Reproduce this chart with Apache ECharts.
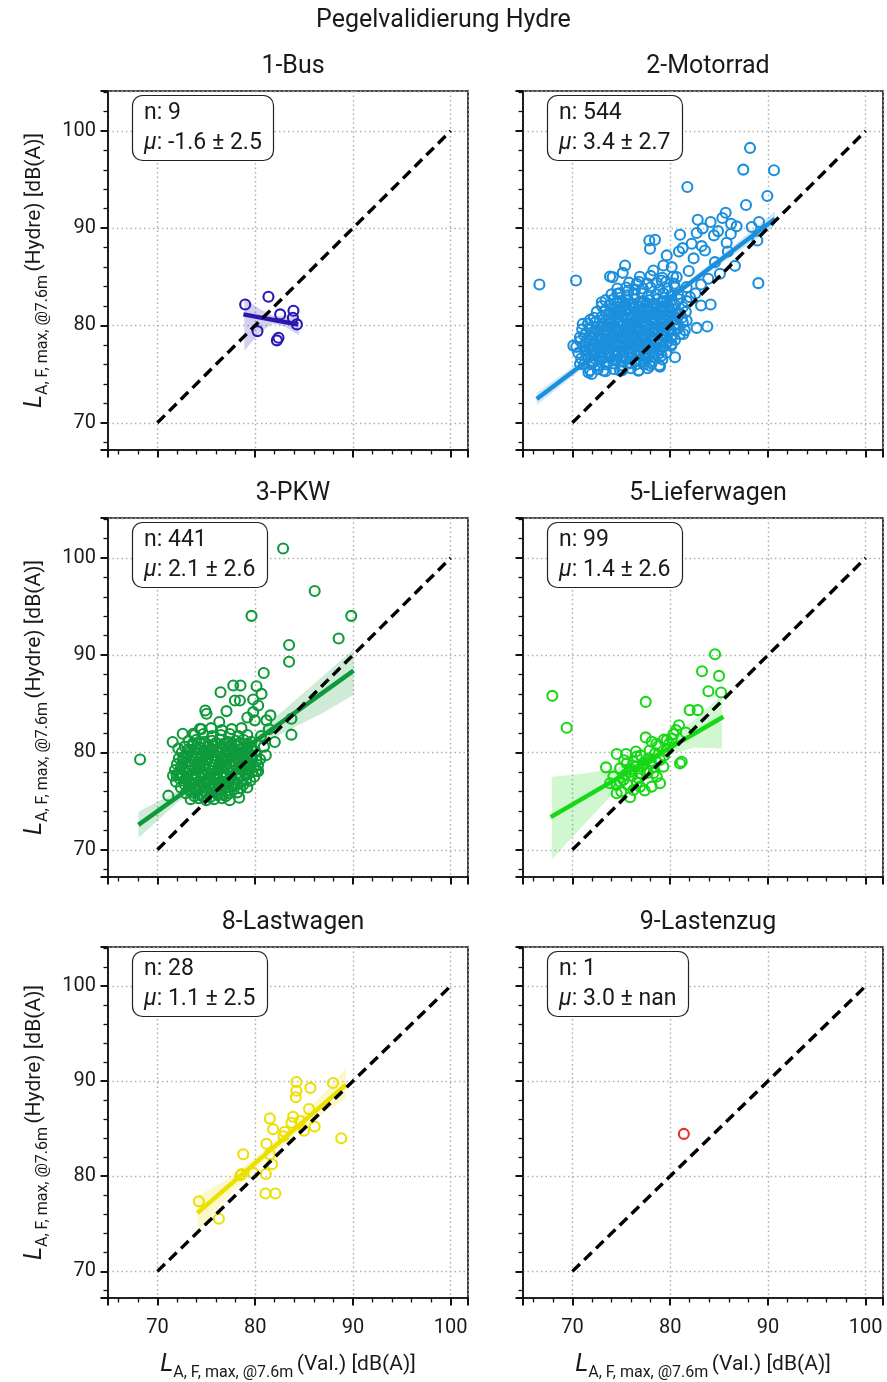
<!DOCTYPE html>
<html>
<head>
<meta charset="utf-8">
<script src="https://cdn.jsdelivr.net/npm/echarts@6/dist/echarts.min.js"></script>
<style>
html,body{margin:0;padding:0;background:#fff;}
#chart{width:887px;height:1382px;}
</style>
</head>
<body>
<div id="chart"></div>
<script>
// ---------------- DATA ----------------
const panelTitles = ['1-Bus', '2-Motorrad', '3-PKW', '5-Lieferwagen', '8-Lastwagen', '9-Lastenzug'];
const panelN = ['9', '544', '441', '99', '28', '1'];
const panelMu = ['-1.6 ± 2.5', '3.4 ± 2.7', '2.1 ± 2.6', '1.4 ± 2.6', '1.1 ± 2.5', '3.0 ± nan'];
const panelColors = ['#2a17b2', '#1b8fdc', '#0e9a3b', '#17d817', '#ebe000', '#e8302a'];
const xTicks = [70, 80, 90, 100];
const yTicks = [70, 80, 90, 100];

const busPts = [[78.98,82.16],[81.36,82.95],[82.56,81.14],[83.92,81.51],[83.86,80.79],[84.27,80.11],[80.24,79.42],[82.39,78.73],[82.22,78.47]];

const motoOutliers = [[66.63,84.21],[70.37,84.62],[81.76,94.24],[88.17,98.25],[87.48,96.02],[90.62,95.95],[89.94,93.31],[87.76,92.38],[89.02,84.35],[85.68,91.59],[85.34,91.04],[86.23,90.46],[86.80,90.19],[88.34,90.12],[89.09,90.63],[88.92,88.74],[82.82,90.87],[84.14,90.63],[83.32,89.98],[82.71,89.50],[84.48,89.26],[81.01,89.33],[78.45,88.81],[77.94,87.89],[85.78,88.50],[81.28,87.95],[83.22,88.16],[83.56,87.71],[84.58,86.51],[85.09,85.31],[86.63,86.13],[83.16,84.21],[83.16,82.05],[84.14,82.15],[82.71,79.75],[83.80,79.89],[80.50,76.73],[75.39,86.17],[75.15,85.41],[73.85,85.04],[74.12,84.97],[77.87,88.74],[79.65,87.20],[80.16,86.00],[70.10,77.93],[71.06,80.16],[70.78,78.79],[71.80,80.57],[71.64,75.18],[70.78,76.04],[73.00,82.39],[73.34,81.53],[74.60,83.25],[75.73,83.59],[76.58,84.28],[78.28,85.65],[79.31,86.17],[79.13,84.62],[80.67,84.97],[81.69,83.94],[82.03,82.91],[81.01,81.19],[81.69,80.50],[81.35,79.13],[80.16,78.10],[79.13,76.90],[77.94,75.87],[78.96,75.77],[76.75,75.36],[74.87,75.36],[73.17,75.36],[71.97,75.01],[82.4,86.9],[81.9,85.6],[82.6,83.3],[83.9,84.8],[85.9,87.6],[82.2,88.4],[80.9,87.6],[84.9,89.7],[86.2,89.4]];

const motoCore = [
[71.8,75.4],[72.6,75.5],[73.4,75.3],[74.3,75.5],[75.1,75.4],[76.0,75.6],[76.8,75.4],[77.7,75.6],
[71.2,76.0],[72.0,76.1],[72.7,75.9],[73.5,76.0],[74.2,76.1],[75.0,75.9],[75.8,76.1],[76.5,76.0],[77.3,76.0],[78.1,76.1],[78.9,75.9],
[70.9,76.6],[71.6,76.7],[72.4,76.5],[73.1,76.6],[73.9,76.7],[74.6,76.5],[75.4,76.6],[76.1,76.7],[76.9,76.5],[77.6,76.6],[78.4,76.7],[79.2,76.5],
[70.6,77.2],[71.3,77.3],[72.1,77.1],[72.8,77.2],[73.6,77.3],[74.3,77.1],[75.1,77.2],[75.8,77.3],[76.6,77.1],[77.3,77.2],[78.1,77.3],[78.8,77.1],[79.6,77.2],
[70.4,77.8],[71.1,77.9],[71.8,77.7],[72.6,77.8],[73.3,77.9],[74.0,77.7],[74.8,77.8],[75.5,77.9],[76.3,77.7],[77.0,77.8],[77.8,77.9],[78.5,77.7],[79.3,77.8],[80.1,77.9],
[70.8,78.4],[71.5,78.5],[72.3,78.3],[73.0,78.4],[73.8,78.5],[74.5,78.3],[75.3,78.4],[76.0,78.5],[76.8,78.3],[77.5,78.4],[78.3,78.5],[79.0,78.3],[79.8,78.4],[80.5,78.5],
[71.2,79.0],[72.0,79.1],[72.7,78.9],[73.5,79.0],[74.2,79.1],[75.0,78.9],[75.7,79.0],[76.5,79.1],[77.2,78.9],[78.0,79.0],[78.7,79.1],[79.5,78.9],[80.2,79.0],[81.0,79.1],
[71.0,79.6],[71.8,79.7],[72.5,79.5],[73.3,79.6],[74.0,79.7],[74.8,79.5],[75.5,79.6],[76.3,79.7],[77.0,79.5],[77.8,79.6],[78.5,79.7],[79.3,79.5],[80.0,79.6],[80.8,79.7],[81.5,79.5],
[71.6,80.2],[72.3,80.3],[73.1,80.1],[73.8,80.2],[74.6,80.3],[75.3,80.1],[76.1,80.2],[76.8,80.3],[77.6,80.1],[78.3,80.2],[79.1,80.3],[79.8,80.1],[80.6,80.2],[81.3,80.3],
[72.2,80.8],[73.0,80.9],[73.7,80.7],[74.5,80.8],[75.2,80.9],[76.0,80.7],[76.7,80.8],[77.5,80.9],[78.2,80.7],[79.0,80.8],[79.7,80.9],[80.5,80.7],[81.2,80.8],
[72.5,81.4],[73.3,81.5],[74.0,81.3],[74.8,81.4],[75.5,81.5],[76.3,81.3],[77.0,81.4],[77.8,81.5],[78.5,81.3],[79.3,81.4],[80.0,81.5],[80.8,81.3],[81.6,81.4],
[73.0,82.0],[73.8,82.1],[74.5,81.9],[75.3,82.0],[76.0,82.1],[76.8,81.9],[77.5,82.0],[78.3,82.1],[79.0,81.9],[79.8,82.0],[80.5,82.1],[81.3,81.9],
[73.4,82.6],[74.2,82.7],[74.9,82.5],[75.7,82.6],[76.4,82.7],[77.2,82.5],[77.9,82.6],[78.7,82.7],[79.4,82.5],[80.2,82.6],[80.9,82.7],[81.7,82.5],
[74.0,83.2],[74.8,83.3],[75.6,83.1],[76.3,83.2],[77.1,83.3],[77.8,83.1],[78.6,83.2],[79.3,83.3],[80.1,83.1],[80.8,83.2],
[74.6,83.8],[75.5,83.9],[76.4,83.7],[77.2,83.8],[78.0,83.9],[78.9,83.7],[79.7,83.8],[80.5,83.9],
[75.8,84.4],[76.8,84.5],[77.7,84.3],[78.6,84.4],[79.6,84.5],[80.4,84.3],
[76.9,85.0],[78.0,85.1],[79.2,84.9],[80.3,85.0]
];

const motoCoreInner = [
[72.0,76.3],[72.8,76.3],[73.5,76.2],[74.3,76.4],[75.0,76.3],[75.8,76.2],[76.5,76.4],[77.3,76.3],[78.0,76.3],
[71.5,76.9],[72.3,76.9],[73.0,76.8],[73.8,77.0],[74.5,76.9],[75.3,76.8],[76.0,77.0],[76.8,76.9],[77.5,76.9],[78.3,76.8],
[71.4,77.5],[72.2,77.5],[73.0,77.4],[73.7,77.6],[74.5,77.5],[75.2,77.4],[76.0,77.6],[76.7,77.5],[77.5,77.5],[78.2,77.4],[79.0,77.6],
[71.4,78.1],[72.1,78.1],[72.9,78.0],[73.6,78.2],[74.4,78.1],[75.1,78.0],[75.9,78.2],[76.6,78.1],[77.4,78.1],[78.1,78.0],[78.9,78.2],[79.6,78.1],
[71.9,78.7],[72.6,78.7],[73.4,78.6],[74.1,78.8],[74.9,78.7],[75.6,78.6],[76.4,78.8],[77.1,78.7],[77.9,78.7],[78.6,78.6],[79.4,78.8],[80.1,78.7],
[72.3,79.3],[73.1,79.3],[73.8,79.2],[74.6,79.4],[75.3,79.3],[76.1,79.2],[76.8,79.4],[77.6,79.3],[78.3,79.3],[79.1,79.2],[79.8,79.4],
[72.9,79.9],[73.6,79.9],[74.4,79.8],[75.1,80.0],[75.9,79.9],[76.6,79.8],[77.4,80.0],[78.1,79.9],[78.9,79.9],[79.6,79.8],[80.4,80.0],
[73.4,80.5],[74.1,80.5],[74.9,80.4],[75.6,80.6],[76.4,80.5],[77.1,80.4],[77.9,80.6],[78.6,80.5],[79.4,80.5],[80.1,80.4],
[73.7,81.1],[74.4,81.1],[75.2,81.0],[75.9,81.2],[76.7,81.1],[77.4,81.0],[78.2,81.2],[78.9,81.1],[79.7,81.1],[80.4,81.0],
[74.2,81.7],[74.9,81.7],[75.7,81.6],[76.4,81.8],[77.2,81.7],[77.9,81.6],[78.7,81.8],[79.4,81.7],[80.2,81.7],
[74.6,82.3],[75.4,82.3],[76.1,82.2],[76.9,82.4],[77.6,82.3],[78.4,82.2],[79.1,82.4]
];

const pkwOutliers = [[68.23,79.27],[82.86,100.96],[86.09,96.59],[79.63,94.04],[89.83,94.04],[88.54,91.72],[83.47,91.04],[83.47,89.33],[80.88,88.17],[76.46,86.19],[77.76,86.88],[78.50,86.88],[80.14,86.81],[80.65,86.02],[77.93,85.34],[78.44,85.34],[77.07,84.25],[74.90,84.32],[75.03,83.98],[79.80,85.44],[80.31,84.83],[79.80,84.15],[79.97,83.30],[81.56,83.81],[81.16,83.30],[83.71,83.47],[83.71,81.83],[82.01,81.08],[81.09,79.72],[80.31,78.08],[78.37,75.35],[71.12,75.56],[71.56,81.08],[72.59,81.93],[72.14,80.40],[73.67,81.93],[74.35,82.44],[76.33,83.13],[71.97,77.67],[72.65,79.38],[80.9,80.6],[81.4,82.4],[80.6,81.7],[79.2,83.6]];

const pkwCore = [
[73.4,75.2],[74.2,75.3],[75.0,75.1],[75.8,75.2],[76.6,75.3],[77.4,75.1],
[72.9,75.8],[73.6,75.9],[74.4,75.7],[75.1,75.8],[75.9,75.9],[76.6,75.7],[77.4,75.8],[78.2,75.9],
[72.4,76.4],[73.2,76.5],[73.9,76.3],[74.7,76.4],[75.4,76.5],[76.2,76.3],[76.9,76.4],[77.7,76.5],[78.5,76.3],[79.2,76.4],
[71.9,77.0],[72.7,77.1],[73.4,76.9],[74.2,77.0],[74.9,77.1],[75.7,76.9],[76.4,77.0],[77.2,77.1],[77.9,76.9],[78.7,77.0],[79.5,77.1],
[71.6,77.6],[72.4,77.7],[73.1,77.5],[73.9,77.6],[74.6,77.7],[75.4,77.5],[76.1,77.6],[76.9,77.7],[77.6,77.5],[78.4,77.6],[79.1,77.7],[79.9,77.5],
[71.8,78.2],[72.6,78.3],[73.3,78.1],[74.1,78.2],[74.8,78.3],[75.6,78.1],[76.3,78.2],[77.1,78.3],[77.8,78.1],[78.6,78.2],[79.3,78.3],[80.1,78.1],
[72.0,78.8],[72.8,78.9],[73.5,78.7],[74.3,78.8],[75.0,78.9],[75.8,78.7],[76.5,78.8],[77.3,78.9],[78.0,78.7],[78.8,78.8],[79.5,78.9],[80.3,78.7],
[72.2,79.4],[73.0,79.5],[73.7,79.3],[74.5,79.4],[75.2,79.5],[76.0,79.3],[76.7,79.4],[77.5,79.5],[78.2,79.3],[79.0,79.4],[79.7,79.5],[80.5,79.3],
[72.5,80.0],[73.3,80.1],[74.0,79.9],[74.8,80.0],[75.5,80.1],[76.3,79.9],[77.0,80.0],[77.8,80.1],[78.5,79.9],[79.3,80.0],[80.0,80.1],
[72.8,80.6],[73.6,80.7],[74.3,80.5],[75.1,80.6],[75.8,80.7],[76.6,80.5],[77.3,80.6],[78.1,80.7],[78.8,80.5],[79.6,80.6],
[73.2,81.2],[74.0,81.3],[74.8,81.1],[75.6,81.2],[76.4,81.3],[77.2,81.1],[78.0,81.2],[78.8,81.3],[79.6,81.1],
[73.8,81.8],[74.7,81.9],[75.6,81.7],[76.5,81.8],[77.4,81.9],[78.3,81.7],[79.2,81.8],
[74.5,82.4],[75.5,82.5],[76.6,82.3],[77.6,82.4],[78.6,82.5]
];

const pkwCoreInner = [
[73.8,75.5],[74.6,75.5],[75.4,75.4],[76.2,75.6],[77.0,75.5],
[73.3,76.1],[74.0,76.1],[74.8,76.0],[75.5,76.2],[76.3,76.1],[77.0,76.0],[77.8,76.2],
[72.8,76.7],[73.5,76.7],[74.3,76.6],[75.0,76.8],[75.8,76.7],[76.5,76.6],[77.3,76.8],[78.1,76.7],[78.8,76.7],
[72.3,77.3],[73.0,77.3],[73.8,77.2],[74.5,77.4],[75.3,77.3],[76.0,77.2],[76.8,77.4],[77.5,77.3],[78.3,77.3],[79.1,77.2],
[72.2,77.9],[73.0,77.9],[73.7,77.8],[74.5,78.0],[75.2,77.9],[76.0,77.8],[76.7,78.0],[77.5,77.9],[78.2,77.9],[79.0,77.8],[79.7,78.0],
[72.4,78.5],[73.2,78.5],[73.9,78.4],[74.7,78.6],[75.4,78.5],[76.2,78.4],[76.9,78.6],[77.7,78.5],[78.4,78.5],[79.2,78.4],[79.9,78.6],
[72.6,79.1],[73.4,79.1],[74.1,79.0],[74.9,79.2],[75.6,79.1],[76.4,79.0],[77.1,79.2],[77.9,79.1],[78.6,79.1],[79.4,79.0],[80.1,79.2],
[72.9,79.7],[73.6,79.7],[74.4,79.6],[75.1,79.8],[75.9,79.7],[76.6,79.6],[77.4,79.8],[78.1,79.7],[78.9,79.7],[79.6,79.6],
[73.2,80.3],[74.0,80.3],[74.7,80.2],[75.5,80.4],[76.2,80.3],[77.0,80.2],[77.7,80.4],[78.5,80.3],[79.2,80.3],
[73.6,80.9],[74.4,80.9],[75.2,80.8],[76.0,81.0],[76.8,80.9],[77.6,80.8],[78.4,81.0],[79.2,80.9]
];

const lieferPts = [[67.95,85.82],[69.42,82.54],[77.50,85.20],[84.59,90.09],[83.26,88.35],[85.0,87.87],[83.91,86.30],[85.21,86.16],[82.0,84.35],[82.82,84.35],[81.59,82.06],[80.33,81.89],[79.37,81.34],[77.50,81.55],[78.11,81.10],[78.80,80.66],[74.53,79.84],[75.49,79.84],[73.44,78.47],[81.01,78.88],[81.18,79.05],[76.58,79.57],[76.24,79.05],[77.26,78.88],[78.46,79.91],[79.65,80.25],[78.97,79.22],[79.31,78.54],[74.88,78.37],[75.90,78.03],[77.60,77.86],[78.63,77.52],[78.97,76.83],[78.11,76.49],[76.92,76.49],[76.24,76.15],[74.53,75.81],[75.90,75.40],[74.53,76.66],[75.22,77.17],[73.85,76.83],[74.19,77.52],[76.75,77.35],[77.09,78.54],[76.41,78.54],[75.56,78.88],[77.77,79.40],[78.29,78.54],[79.65,81.27],[80.16,81.44],[75.6,76.7],[76.9,77.9],[77.9,80.2],[75.3,79.2],[77.4,76.1],[76.1,77.6],[78.6,80.9],[79.9,80.9],[80.6,82.3],[77.0,79.7],[75.0,76.0],[76.6,76.9],[78.3,77.9],[79.4,79.7],[80.9,82.8],[76.0,78.3],[77.6,78.2],[75.4,77.7],[78.0,79.1],[76.5,80.1],[74.9,77.0]];

const lastPts = [[74.25,77.36],[76.29,75.54],[78.78,82.32],[78.61,80.23],[79.80,80.33],[81.09,80.23],[81.05,78.18],[82.07,78.18],[81.73,81.26],[81.16,83.41],[81.84,84.95],[81.50,86.08],[83.03,84.68],[83.88,86.25],[84.22,89.91],[84.22,88.99],[84.15,88.30],[85.65,89.29],[85.51,87.07],[85.0,84.78],[86.09,85.22],[87.96,89.81],[88.81,83.99],[83.71,85.63],[81.50,82.32],[78.5,80.1],[84.6,85.8],[82.9,84.2]];

const zugPts = [[81.4,84.45]];

// regression fit lines [x0,y0],[x1,y1]
const busFit = [[78.8,81.14],[84.4,80.10]];
const motoFit = [[66.35,72.44],[90.72,90.97]];
const pkwFit = [[68.06,72.56],[90.07,88.41]];
const lieferFit = [[67.78,73.35],[85.44,83.67]];
const lastFit = [[74.08,76.12],[89.32,89.64]];

// confidence bands: x, lower, upper
const busBandX = [78.9, 80.5, 81.8, 83.0, 84.5];
const busBandLo = [77.4, 79.3, 80.2, 79.9, 79.0];
const busBandHi = [82.8, 81.7, 81.0, 81.0, 81.1];
const motoBandX = [66.35, 72, 77, 82, 87, 90.72];
const motoBandLo = [71.8, 76.35, 80.3, 84.0, 87.6, 90.2];
const motoBandHi = [73.1, 77.1, 80.75, 84.65, 88.65, 91.75];
const pkwBandX = [68.06, 72, 76, 80, 84, 87, 90.07];
const pkwBandLo = [71.2, 74.8, 77.95, 80.5, 82.6, 84.1, 85.9];
const pkwBandHi = [73.9, 76.0, 78.6, 81.8, 85.3, 87.9, 90.6];
const lieferBandX = [67.9, 71, 74, 77.5, 80, 82.5, 85.3];
const lieferBandLo = [69.0, 72.4, 75.6, 78.5, 79.8, 80.5, 80.4];
const lieferBandHi = [77.5, 77.8, 78.3, 79.5, 81.3, 83.4, 85.9];
const lastBandX = [74.1, 77, 80.5, 84, 87, 89.3];
const lastBandLo = [74.2, 77.6, 81.2, 84.3, 86.6, 88.2];
const lastBandHi = [77.9, 79.6, 82.4, 85.5, 88.7, 91.4];

const diagonal = [[70,70],[100,100]];

// ---------------- LAYOUT ----------------
const FONT = 'Roboto';
const TXT = '#1a1a1a';
const colLeft = [108, 523];
const rowTop = [91, 518, 947];
const gW = 360, gH = 359;
const xMin = 64.95, xMax = 101.77, yMin = 67.2, yMax = 104.1;

const scatterSets = [busPts, motoOutliers.concat(motoCore, motoCoreInner), pkwOutliers.concat(pkwCore, pkwCoreInner), lieferPts, lastPts, zugPts];
const fits = [busFit, motoFit, pkwFit, lieferFit, lastFit, null];
const bands = [
  [busBandX, busBandLo, busBandHi],
  [motoBandX, motoBandLo, motoBandHi],
  [pkwBandX, pkwBandLo, pkwBandHi],
  [lieferBandX, lieferBandLo, lieferBandHi],
  [lastBandX, lastBandLo, lastBandHi],
  null
];

function hexA(hex, a) {
  const r = parseInt(hex.slice(1,3),16), g = parseInt(hex.slice(3,5),16), b = parseInt(hex.slice(5,7),16);
  return 'rgba(' + r + ',' + g + ',' + b + ',' + a + ')';
}

const grids = [], xAxes = [], yAxes = [], series = [], titles = [];
titles.push({text: 'Pegelvalidierung Hydre', left: 'center', top: 3,
  textStyle: {fontFamily: FONT, fontSize: 25, fontWeight: 'normal', color: TXT}});

const axisNameRich = {
  L: {fontFamily: FONT, fontSize: 25, fontStyle: 'italic', fontWeight: 'normal', color: TXT, lineHeight: 32},
  s: {fontFamily: FONT, fontSize: 16, fontWeight: 'normal', color: TXT, verticalAlign: 'bottom', lineHeight: 20},
  t: {fontFamily: FONT, fontSize: 21, fontWeight: 'normal', color: TXT, lineHeight: 32}
};

for (let i = 0; i < 6; i++) {
  const r = Math.floor(i / 2), c = i % 2;
  const left = colLeft[c], top = rowTop[r];
  const col = panelColors[i];
  grids.push({left: left, top: top, width: gW, height: gH, show: true, borderColor: '#111', borderWidth: 1.6, backgroundColor: '#fff', containLabel: false});
  const gridLine = {show: true, lineStyle: {color: '#ababab', width: 1.4, type: [1.4, 3.1]}};
  xAxes.push({
    type: 'value', gridIndex: i, min: xMin, max: xMax,
    axisLine: {show: true, onZero: false, lineStyle: {color: '#111', width: 1.6}},
    axisTick: {show: true, length: 7.5, lineStyle: {color: '#111', width: 2}},
    minorTick: {show: true, splitNumber: 5, length: 4.5, lineStyle: {color: '#111', width: 1.3}},
    splitLine: gridLine,
    axisLabel: {show: r === 2, fontFamily: FONT, fontSize: 20, color: TXT, margin: 20, showMinLabel: false, showMaxLabel: false,
      formatter: v => xTicks.indexOf(v) >= 0 ? String(v) : ''},
    name: r === 2 ? '{L|L}{s|A, F, max, @7.6m} {t|(Val.) [dB(A)]}' : '',
    nameLocation: 'middle', nameGap: 51,
    nameTextStyle: {rich: axisNameRich}
  });
  yAxes.push({
    type: 'value', gridIndex: i, min: yMin, max: yMax,
    axisLine: {show: true, onZero: false, lineStyle: {color: '#111', width: 1.6}},
    axisTick: {show: true, length: 7.5, lineStyle: {color: '#111', width: 2}},
    minorTick: {show: true, splitNumber: 5, length: 4.5, lineStyle: {color: '#111', width: 1.3}},
    splitLine: gridLine,
    axisLabel: {show: c === 0, fontFamily: FONT, fontSize: 20, color: TXT, margin: 12, showMinLabel: false, showMaxLabel: false,
      formatter: v => yTicks.indexOf(v) >= 0 ? String(v) : ''},
    name: c === 0 ? '{L|L}{s|A, F, max, @7.6m} {t|(Hydre) [dB(A)]}' : '',
    nameLocation: 'middle', nameGap: 57, nameRotate: 90,
    nameTextStyle: {rich: axisNameRich}
  });
  titles.push({text: panelTitles[i], left: left + gW / 2, top: top - 42, textAlign: 'center',
    textStyle: {fontFamily: FONT, fontSize: 25, fontWeight: 'normal', color: TXT}});
  titles.push({
    text: '{a|n: ' + panelN[i] + '}\n{m|μ}{a|: ' + panelMu[i] + '}',
    left: left + 24, top: top + 1,
    padding: [6, 12, 6, 12], borderColor: '#222', borderWidth: 1.2, borderRadius: 10, backgroundColor: '#fff',
    textStyle: {fontWeight: 'normal', rich: {
      a: {fontFamily: FONT, fontSize: 23, fontWeight: 'normal', color: TXT, lineHeight: 30},
      m: {fontFamily: FONT, fontSize: 23, fontStyle: 'italic', fontWeight: 'normal', color: TXT, lineHeight: 30}
    }}
  });

  // scatter
  series.push({
    type: 'scatter', xAxisIndex: i, yAxisIndex: i, data: scatterSets[i], symbol: 'circle', symbolSize: 10,
    itemStyle: {color: 'rgba(0,0,0,0)', borderColor: col, borderWidth: 2.1, opacity: 1},
    silent: true, z: 2
  });
  // band
  const b = bands[i];
  if (b) {
    const rows = b[0].map((x, k) => [x, b[1][k], b[2][k]]);
    series.push({
      type: 'custom', xAxisIndex: i, yAxisIndex: i, data: rows, encode: {x: 0, y: [1, 2]}, silent: true, z: 3,
      renderItem: (params, api) => {
        if (params.dataIndex !== 0) return null;
        const pts = [];
        for (let k = 0; k < rows.length; k++) pts.push(api.coord([rows[k][0], rows[k][2]]));
        for (let k = rows.length - 1; k >= 0; k--) pts.push(api.coord([rows[k][0], rows[k][1]]));
        return {type: 'polygon', shape: {points: pts}, style: {fill: hexA(col, 0.2)}};
      }
    });
  }
  if (fits[i]) {
    series.push({
      type: 'line', xAxisIndex: i, yAxisIndex: i, data: fits[i], symbol: 'none', silent: true, z: 4,
      lineStyle: {color: col, width: 4.5, cap: 'butt'}
    });
  }
  series.push({
    type: 'line', xAxisIndex: i, yAxisIndex: i, data: diagonal, symbol: 'none', silent: true, z: 5,
    lineStyle: {color: '#000', width: 3.4, type: [10.5, 6]}
  });
}

const chart = echarts.init(document.getElementById('chart'), null, {renderer: 'canvas'});
chart.setOption({
  animation: false,
  backgroundColor: '#fff',
  title: titles,
  grid: grids,
  xAxis: xAxes,
  yAxis: yAxes,
  series: series
});
</script>
</body>
</html>
